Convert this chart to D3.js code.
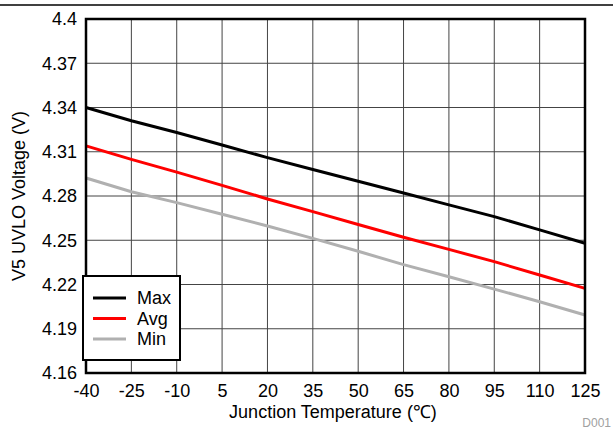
<!DOCTYPE html>
<html><head><meta charset="utf-8">
<script src="https://cdn.jsdelivr.net/npm/d3@7"></script>
<style>body{margin:0;background:#fff}svg{display:block}</style>
</head><body>
<script>
const temps = [-40,-25,-10,5,20,35,50,65,80,95,110,125];
const maxV = [4.340,4.331,4.323,4.3146,4.306,4.298,4.290,4.282,4.274,4.266,4.257,4.248];
const avgV = [4.314,4.3048,4.2962,4.2872,4.278,4.2694,4.2607,4.252,4.2438,4.2355,4.2264,4.2174];
const minV = [4.2922,4.2829,4.2755,4.2676,4.2597,4.2513,4.2425,4.2335,4.2253,4.2169,4.2083,4.1993];
const yTicks = [4.16,4.19,4.22,4.25,4.28,4.31,4.34,4.37,4.4];
const seriesNames = ["Max","Avg","Min"];
const seriesColors = ["#000000","#ff0000","#b0b0b0"];

const W=613,H=431;
const L=86,R=585,T=19,B=373;
const svg=d3.select("body").append("svg").attr("width",W).attr("height",H);
const x=d3.scaleLinear().domain([-40,125]).range([L,R]);
const y=d3.scaleLinear().domain([4.16,4.4]).range([B,T]);
const font="'Liberation Sans', Arial, sans-serif";
const fs=18;

svg.append("line").attr("x1",0).attr("x2",W).attr("y1",5).attr("y2",5).attr("stroke","#000").attr("stroke-width",1.5);

const g=svg.append("g");
temps.forEach(t=>g.append("line").attr("x1",x(t)).attr("x2",x(t)).attr("y1",T).attr("y2",B).attr("stroke","#444").attr("stroke-width",1));
yTicks.forEach(v=>g.append("line").attr("x1",L).attr("x2",R).attr("y1",y(v)).attr("y2",y(v)).attr("stroke","#444").attr("stroke-width",1));

const line=d3.line().x((d,i)=>x(temps[i])).y(d=>y(d));
[maxV,avgV,minV].forEach((s,i)=>{
  svg.append("path").attr("d",line(s)).attr("fill","none").attr("stroke",seriesColors[i]).attr("stroke-width",3);
});

svg.append("rect").attr("x",L).attr("y",T).attr("width",R-L).attr("height",B-T).attr("fill","none").attr("stroke","#000").attr("stroke-width",2.5);

const xAxis=d3.axisBottom(x).tickValues(temps).tickSize(0).tickPadding(11).tickFormat(d=>String(d));
const xa=svg.append("g").attr("transform",`translate(0,${B})`).call(xAxis);
xa.select(".domain").remove();
xa.selectAll("text").attr("font-family",font).attr("font-size",fs).attr("fill","#000");
const yAxis=d3.axisLeft(y).tickValues(yTicks).tickSize(0).tickPadding(9).tickFormat(d=>String(+d.toFixed(2)));
const ya=svg.append("g").attr("transform",`translate(${L},0)`).call(yAxis);
ya.select(".domain").remove();
ya.selectAll("text").attr("font-family",font).attr("font-size",fs).attr("fill","#000");

svg.append("text").attr("x",333).attr("y",418).attr("text-anchor","middle").attr("font-family",font).attr("font-size",fs).text("Junction Temperature (℃)");
svg.append("text").attr("transform",`translate(25,${(T+B)/2}) rotate(-90)`).attr("text-anchor","middle").attr("font-family",font).attr("font-size",fs).text("V5 UVLO Voltage (V)");
svg.append("text").attr("x",611).attr("y",427).attr("text-anchor","end").attr("font-family",font).attr("font-size",12).attr("fill","#a0a0a0").text("D001");

const lg=svg.append("g");
lg.append("rect").attr("x",83).attr("y",276).attr("width",97).attr("height",84).attr("fill","#fff").attr("stroke","#000").attr("stroke-width",2);
seriesNames.forEach((n,i)=>{
  const yy=298+i*20.5;
  lg.append("line").attr("x1",93).attr("x2",126).attr("y1",yy).attr("y2",yy).attr("stroke",seriesColors[i]).attr("stroke-width",3);
  lg.append("text").attr("x",137).attr("y",yy+6).attr("font-family",font).attr("font-size",fs).text(n);
});
</script>
</body></html>
